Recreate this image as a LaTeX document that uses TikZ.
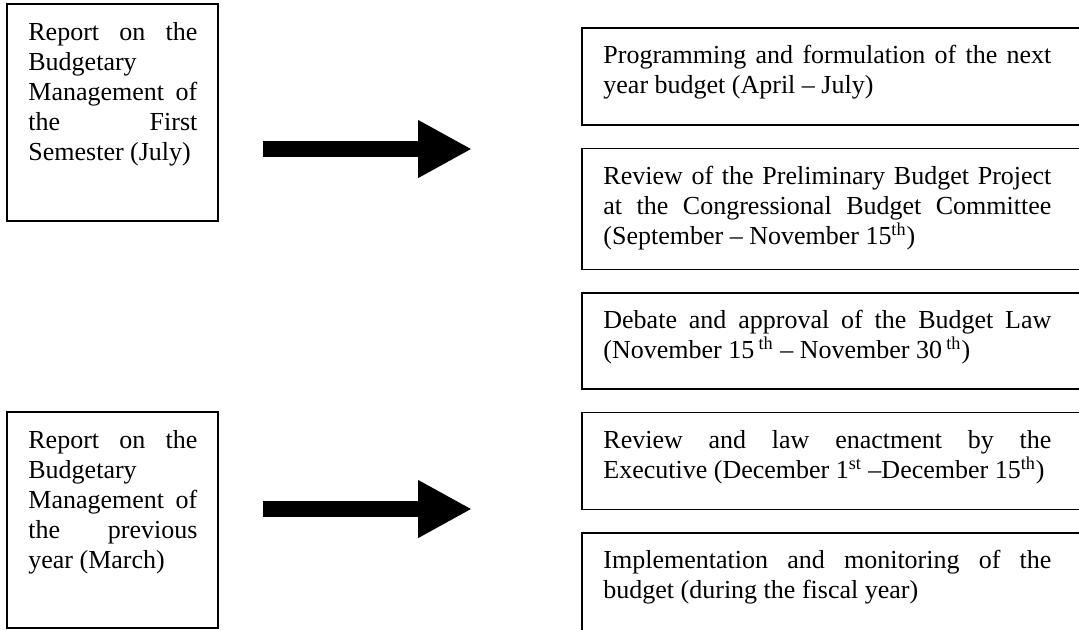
\documentclass[tikz,border=0pt]{standalone}
\usepackage{fontspec}
\setmainfont{Liberation Serif}
\usepackage{tikz}
\usetikzlibrary{arrows.meta,positioning,calc}

% one justified line inside a text node
\newcommand{\jline}[1]{\makebox[\hsize][s]{\spaceskip=0pt\relax #1}\\}

\begin{document}
\begin{tikzpicture}[
  node distance=11.75pt,
  box/.style={anchor=north west, inner sep=0pt, outer sep=0pt},
  lbox/.style={box, draw, line width=0.8pt, minimum width=105.5pt, minimum height=108.5pt},
  rbox/.style={box, minimum width=260pt},
  openbox/.style={line width=0.8pt},
  txt/.style={inner sep=0pt, anchor=base west, align=justify, font=\fontsize{13}{15}\selectfont},
  ltxt/.style={txt, text width=84.5pt},
  rtxt/.style={txt, text width=224pt},
  bigarr/.style={-{Triangle[length=27pt, width=27pt]}, line width=8pt}
]
\useasboundingbox (0,0) rectangle (539.5pt,-314.5pt);
\clip (0,0) rectangle (539.5pt,-314.5pt);

% left boxes
\node[lbox] (semrep) at (3.5pt,-2pt) {};
\node[lbox, minimum height=108pt] (yearrep) at (3.5pt,-206pt) {};

% right boxes, cut off at the right edge
\node[rbox, minimum height=48.5pt] (prog) at (291pt,-14pt) {};
\node[rbox, minimum height=60.5pt, below=of prog] (review) {};
\node[rbox, minimum height=48pt, below=of review] (debate) {};
\node[rbox, minimum height=48.5pt, below=of debate] (enact) {};
\node[rbox, minimum height=70pt, below=of enact] (impl) {};
\foreach \b in {prog,review,debate,enact,impl}
  \draw[openbox] (\b.north east) -- (\b.north west) |- (\b.south east);

% texts
\node[ltxt] (semrep-t) at ([shift={(10.5pt,-18pt)}]semrep.north west)
  {\jline{Report on the}Budgetary\\\jline{Management of}\jline{the First}Semester (July)};
\node[ltxt] (yearrep-t) at ([shift={(10.5pt,-18pt)}]yearrep.north west)
  {\jline{Report on the}Budgetary\\\jline{Management of}\jline{the previous}year (March)};
\node[rtxt] (prog-t) at ([shift={(10.5pt,-17.75pt)}]prog.north west)
  {\jline{Programming and formulation of the next}year budget (April – July)};
\node[rtxt] (review-t) at ([shift={(10.5pt,-17.75pt)}]review.north west)
  {\jline{Review of the Preliminary Budget Project}\jline{at the Congressional Budget Committee}(September – November 15\textsuperscript{th})};
\node[rtxt] (debate-t) at ([shift={(10.5pt,-17.75pt)}]debate.north west)
  {\jline{Debate and approval of the Budget Law}(November 15\,\textsuperscript{th} – November 30\,\textsuperscript{th})};
\node[rtxt] (enact-t) at ([shift={(10.5pt,-17.75pt)}]enact.north west)
  {\jline{Review and law enactment by the}\mbox{Executive (December 1\textsuperscript{st} –December 15\textsuperscript{th})}};
\node[rtxt] (impl-t) at ([shift={(10.5pt,-17.75pt)}]impl.north west)
  {\jline{Implementation and monitoring of the}budget (during the fiscal year)};

% arrows
\coordinate (semarr-s) at (131.5pt,-74.5pt);
\coordinate (semarr-e) at (236pt,-74.5pt);
\coordinate (yeararr-s) at (131.5pt,-254.5pt);
\coordinate (yeararr-e) at (236pt,-254.5pt);
\draw[bigarr] (semarr-s) -- (semarr-e);
\draw[bigarr] (yeararr-s) -- (yeararr-e);
\end{tikzpicture}
\end{document}
